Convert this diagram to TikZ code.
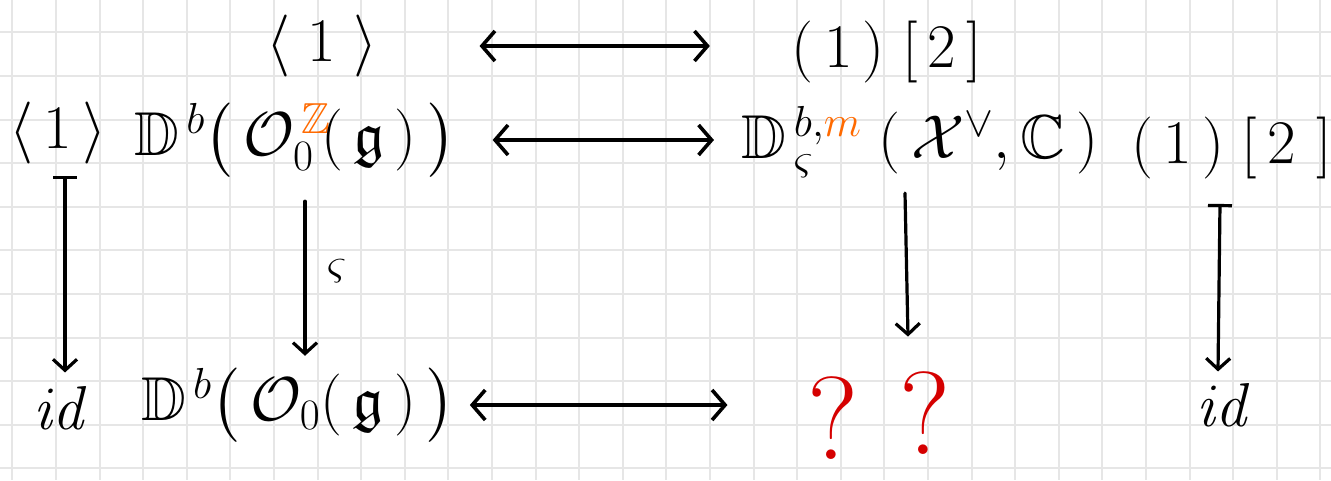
\RequirePackage{fix-cm}
\documentclass[tikz,border=0pt]{standalone}
\usepackage{amsmath,amssymb}
\usetikzlibrary{arrows.meta}
\definecolor{gridc}{HTML}{E6E6E6}
\definecolor{orng}{HTML}{FF6A00}
\definecolor{redq}{HTML}{D50000}
\tikzset{
  gridline/.style={draw=gridc, line width=2pt},
  hw/.style={inner sep=0pt, outer sep=0pt, font=\fontsize{62}{64}\selectfont},
  hws/.style={inner sep=0pt, outer sep=0pt, font=\fontsize{44}{46}\selectfont},
  qmark/.style={inner sep=0pt, outer sep=0pt, text=redq, font=\fontsize{118}{118}\selectfont},
  dbl/.style={line width=3.6pt, line cap=round, {Straight Barb[length=13pt,width=30pt,line width=3.6pt]}-{Straight Barb[length=13pt,width=30pt,line width=3.6pt]}},
  down/.style={line width=3.2pt, line cap=round, -{Straight Barb[length=11pt,width=24pt,line width=3.2pt]}},
  mapsdown/.style={line width=3.2pt, line cap=round, {Bar[width=24pt,line width=3.2pt]}-{Straight Barb[length=11pt,width=24pt,line width=3.2pt]}},
}
\begin{document}
\begin{tikzpicture}[x=1pt,y=-1pt]
\useasboundingbox (0,0) rectangle (1331,480);
\fill[white] (0,0) rectangle (1331,480);
% grid paper
\foreach \i in {0,...,30} \draw[gridline] (12.3+43.6*\i,0) -- (12.3+43.6*\i,480);
\foreach \k in {1,...,11} \draw[gridline] (0,-11.3+43.6*\k) -- (1331,-11.3+43.6*\k);

% top row
\node[hw] (t1) at (322,46) {$\langle\;1\;\rangle$};
\node[hw] (t2) at (887,52) {$(\,1\,)\;[\,2\,]$};
% middle row
\node[hw] (l1) at (58,133) {$\langle\,1\,\rangle$};
\node[hw] (dz) at (295,140) {$\mathbb{D}^{\,b}\big(\,\mathcal{O}_{0}^{\,\textcolor{orng}{\mathbb{Z}}}\!(\,\mathfrak{g}\,)\,\big)$};
\node[hw] (dr) at (920,142) {$\mathbb{D}^{\,b,\textcolor{orng}{m}}_{\,\varsigma}\;(\,\mathcal{X}^{\vee},\mathbb{C}\,)$};
\node[hw] (r1) at (1232,148) {$(\,1\,)\;[\,2\,\,]$};
% bottom row
\node[hw] (id1) at (62,408) {$\mathit{id}$};
\node[hw] (do) at (298,405) {$\mathbb{D}^{\,b}\big(\,\mathcal{O}_{0}(\,\mathfrak{g}\,)\,\big)$};
\node[qmark] (q1) at (833,418) {?};
\node[qmark] (q2) at (925,413) {?};
\node[hw] (id2) at (1225,405) {$\mathit{id}$};

% horizontal arrows
\draw[dbl] ([xshift=102pt]t1.east) -- ([xshift=-82pt]t2.west |- t1.east);
\draw[dbl] ([xshift=37pt]dz.east) -- ([xshift=-28pt]dr.west |- dz.east);
\draw[dbl] ([xshift=15pt]do.east) -- ([xshift=-80pt]q1.west |- do.east);

% vertical arrows
\draw[mapsdown] ([xshift=7pt,yshift=-12pt]l1.south) -- ([xshift=3pt,yshift=14pt]id1.north);
\draw[down] ([xshift=10pt,yshift=-24pt]dz.south) -- node[hws, right=22pt, pos=0.45] (s) {$\varsigma$} ([xshift=7pt,yshift=12pt]do.north);
\draw[down] ([xshift=-15pt,yshift=-15pt]dr.south) -- ([xshift=-17pt,yshift=35pt]q2.north);
\draw[mapsdown] ([xshift=-12pt,yshift=-25pt]r1.south) -- ([xshift=-7pt,yshift=12pt]id2.north);
\end{tikzpicture}
\end{document}
